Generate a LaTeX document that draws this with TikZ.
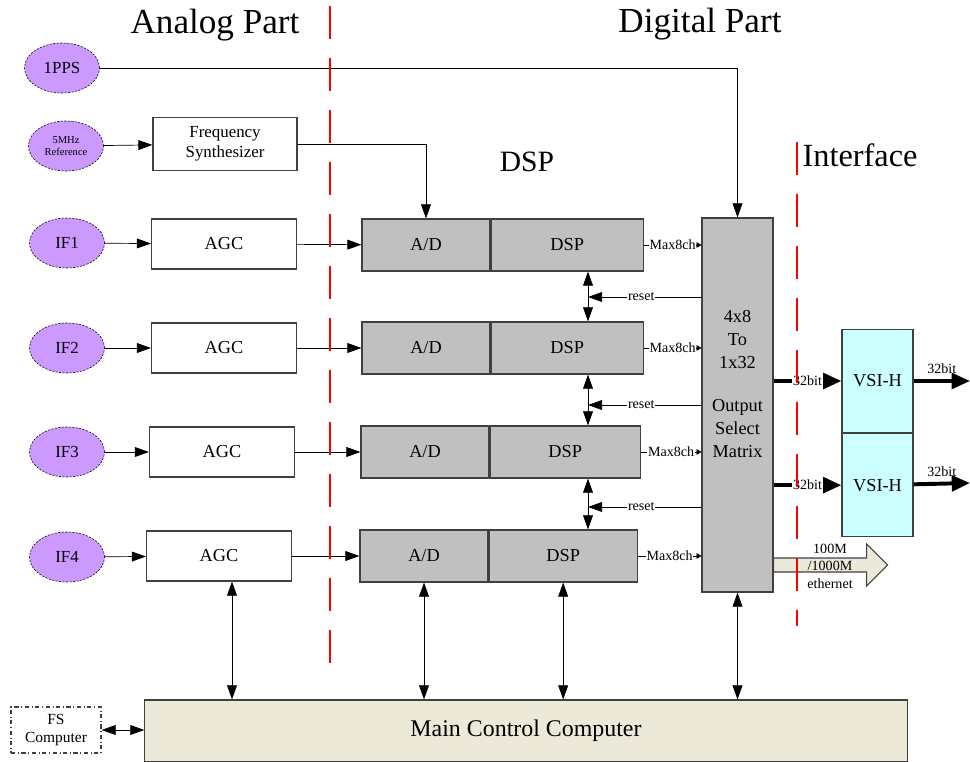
\documentclass[tikz,border=0pt]{standalone}
\usepackage{fontspec}
\setmainfont{Liberation Serif}
\usetikzlibrary{shapes.geometric,arrows.meta,positioning}
\definecolor{srcpurple}{HTML}{CC99FF}
\definecolor{dspgray}{HTML}{C0C0C0}
\definecolor{vsicyan}{HTML}{CCFFFF}
\definecolor{mccbeige}{HTML}{ECE9D8}
\definecolor{boxgray}{HTML}{404040}
\begin{document}
\begin{tikzpicture}[x=0.025cm,y=-0.025cm,
src/.style ={ellipse, draw=black, dash pattern=on 1.5pt off 1pt, fill=srcpurple,
  inner sep=0pt, minimum width=1.875cm, minimum height=1.25cm,
  font=\fontsize{12}{14}\selectfont
},
block/.style ={rectangle, draw=boxgray, fill=white, thick,
  minimum width=3.625cm, minimum height=1.25cm,
  font=\fontsize{13}{15}\selectfont
},
conv/.style ={rectangle, draw=boxgray, fill=dspgray, thick,
  minimum width=3.2cm, minimum height=1.3cm,
  font=\fontsize{13}{15}\selectfont
},
proc/.style ={conv, minimum width=3.8cm},
vsi/.style ={rectangle, draw=boxgray, fill=vsicyan, thick,
  minimum width=1.775cm, minimum height=2.575cm,
  font=\fontsize{13}{15}\selectfont
},
head/.style ={font=\fontsize{25}{30}\selectfont},
lbl/.style ={font=\fontsize{10}{12}\selectfont, inner sep=0.5pt},
arr/.style ={-{Triangle[length=10pt,width=7pt]}, line width=0.5pt},
dbl/.style ={{Triangle[length=10pt,width=7pt]}-{Triangle[length=10pt,width=7pt]}, line width=0.5pt},
tiny/.style ={-{Triangle[length=3.5pt,width=4pt]}, line width=0.5pt},
fat/.style ={-{Triangle[length=13pt,width=11pt]}, line width=2.8pt},
cut/.style ={red, line width=1.5pt, dash pattern=on 0.825cm off 0.475cm}
]
\useasboundingbox (0,0) rectangle (970,761);

% headings
\node (analog) at (215,25) [head] {Analog Part};
\node (digital) at (700,24) [head] {Digital Part};
\node (dsphead) at (527,162) [head, font=\fontsize{21}{25}\selectfont] {DSP};
\node (iface) at (860,155) [head, font=\fontsize{23}{28}\selectfont] {Interface};

% sources
\node (pps) at (62,68) [src] {1PPS};
\node (ref) at (66,146) [src, align=center, font=\fontsize{7.5}{8.5}\selectfont] {5MHz\\Reference};
\node (fsyn) at (225,144) [block, align=center, minimum width=3.6cm, minimum height=1.325cm,
  font=\fontsize{12}{14}\selectfont] {Frequency\\Synthesizer};
\node (if1) at (67,243) [src] {IF1};
\node (if2) at (67,348) [src] {IF2};
\node (if3) at (67,452) [src] {IF3};
\node (if4) at (67,557) [src] {IF4};

% channels
\node (agc1) at (224,244) [block] {AGC};
\node (agc2) at (224,348) [block] {AGC};
\node (agc3) at (222,452) [block] {AGC};
\node (agc4) at (219,556) [block] {AGC};
\node (ad1) at (426,245) [conv] {A/D};
\node (ad2) at (426,348) [conv] {A/D};
\node (ad3) at (425,452) [conv] {A/D};
\node (ad4) at (424,556) [conv] {A/D};
\node (dsp1) [proc, right=0pt of ad1] {DSP};
\node (dsp2) [proc, right=0pt of ad2] {DSP};
\node (dsp3) [proc, right=0pt of ad3, minimum width=3.75cm] {DSP};
\node (dsp4) [proc, right=0pt of ad4, minimum width=3.7cm] {DSP};

% matrix and interface
\node (mat) at (737.5,405) [conv, minimum width=1.775cm, minimum height=9.35cm] {};
\node (mattext) at (737.5,384) [align=center, font=\fontsize{13}{16.5}\selectfont]
  {4x8\\To\\1x32\\[14pt]Output\\Select\\Matrix};
\node (vsi1) at (877.5,381) [vsi] {VSI-H};
\node (vsi2) [vsi, below=0pt of vsi1] {VSI-H};
\coordinate (o1) at (970,381);
\coordinate (o2) at (970,483);

% control
\node (mcc) at (526,731) [rectangle, draw=boxgray, fill=mccbeige, thick,
  minimum width=19.05cm, minimum height=1.55cm,
  font=\fontsize{17}{20}\selectfont] {Main Control Computer};
\node (fsc) at (56,730) [rectangle, draw=boxgray, dash dot, thick, align=center,
  minimum width=2.25cm, minimum height=1.15cm,
  font=\fontsize{11}{13}\selectfont] {FS\\Computer};

% signal paths
\draw[arr] (pps) -- (pps -| mat) -- (mat);
\draw[arr] (ref) -- (fsyn);
\draw[arr] (fsyn) -- (fsyn -| ad1) -- (ad1);
\draw[arr] (if1) -- (agc1);
\draw[arr] (if2) -- (agc2);
\draw[arr] (if3) -- (agc3);
\draw[arr] (if4) -- (agc4);
\draw[arr] (agc1) -- (ad1);
\draw[arr] (agc2) -- (ad2);
\draw[arr] (agc3) -- (ad3);
\draw[arr] (agc4) -- (ad4);
\draw[tiny] (dsp1) -- (dsp1 -| mat.west) node[midway, lbl, fill=white] {Max8ch};
\draw[tiny] (dsp2) -- (dsp2 -| mat.west) node[midway, lbl, fill=white] {Max8ch};
\draw[tiny] (dsp3) -- (dsp3 -| mat.west) node[midway, lbl, fill=white] {Max8ch};
\draw[tiny] (dsp4) -- (dsp4 -| mat.west) node[midway, lbl, fill=white] {Max8ch};

% resets
\coordinate (r1) at (588,297);
\coordinate (r2) at (588,405);
\coordinate (r3) at (588,507);
\draw[dbl] (dsp1.south -| r1) -- (dsp2.north -| r1);
\draw[dbl] (dsp2.south -| r2) -- (dsp3.north -| r2);
\draw[dbl] (dsp3.south -| r3) -- (dsp4.north -| r3);
\draw[arr] (mat.west |- r1) -- (r1) node[pos=0.53, lbl, fill=white] {reset};
\draw[arr] (mat.west |- r2) -- (r2) node[pos=0.53, lbl, fill=white] {reset};
\draw[arr] (mat.west |- r3) -- (r3) node[pos=0.53, lbl, fill=white] {reset};

% control links
\draw[dbl] ([xshift=3.25mm]agc4.south) -- ([xshift=3.25mm]agc4.south |- mcc.north);
\draw[dbl] (ad4) -- (ad4 |- mcc.north);
\draw[dbl] (dsp4) -- (dsp4 |- mcc.north);
\draw[dbl] (mat) -- (mat |- mcc.north);
\draw[dbl] (fsc) -- (fsc -| mcc.west);

% outputs
\draw[fat] (mat.east |- vsi1) -- (vsi1) node[midway, lbl, fill=white] {32bit};
\draw[fat] (mat.east |- vsi2) -- (vsi2) node[midway, lbl, fill=white] {32bit};
\draw[fat] (vsi1) -- (o1) node[midway, above=3pt, lbl] {32bit};
\draw[fat] (vsi2) -- (o2) node[midway, above=3pt, lbl] {32bit};
\coordinate (eth) at (mat.east |- 0,565);
\draw[boxgray, fill=mccbeige, thick] (eth) ++(0,-7) -- ++(93,0) -- ++(0,-14) -- ++(21,21)
  -- ++(-21,21) -- ++(0,-14) -- ++(-93,0) -- cycle;
\node (ethtxt) at (830,566) [align=center, font=\fontsize{10}{12.5}\selectfont] {100M\\/1000M\\ethernet};

% analog / digital / interface borders
\draw[cut] (330,6) -- (330,663);
\draw[cut] (797,142) -- (797,626);
\end{tikzpicture}
\end{document}
